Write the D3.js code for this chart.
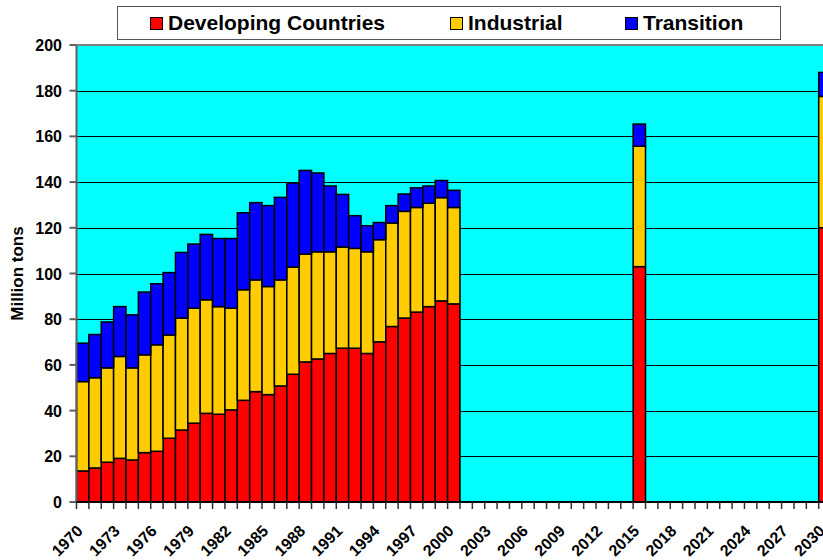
<!DOCTYPE html>
<html>
<head>
<meta charset="utf-8">
<script src="https://cdn.jsdelivr.net/npm/d3@7"></script>
<style>
  body { margin: 0; background: #fff; }
  svg { display: block; font-family: Arial, "Liberation Sans", sans-serif; font-weight: bold; }
</style>
</head>
<body>
<div id="chart"></div>
<script>
// categories on the axis and the years that carry a bar
const axisYears = d3.range(1970, 2031).map(String)
const tickYears = ["1970","1973","1976","1979","1982","1985","1988","1991","1994","1997","2000",
  "2003","2006","2009","2012","2015","2018","2021","2024","2027","2030"]

const barYears = ["1970","1971","1972","1973","1974","1975","1976","1977","1978","1979",
  "1980","1981","1982","1983","1984","1985","1986","1987","1988","1989",
  "1990","1991","1992","1993","1994","1995","1996","1997","1998","1999","2000",
  "2015","2030"]

// million tons
const developing = [13.6,14.9,17.4,19.1,18.4,21.6,22.2,27.9,31.5,34.5,
  38.8,38.4,40.3,44.5,48.3,47.0,50.8,55.9,61.3,62.6,
  65.0,67.3,67.3,65.0,70.1,76.8,80.5,83.1,85.5,88.0,86.7,
  103.0,120.0]
const industrial = [39.1,39.5,41.3,44.6,40.3,42.8,46.6,45.2,49.0,50.3,
  49.7,47.1,44.5,48.4,48.9,47.3,46.4,46.9,47.2,46.9,
  44.5,44.3,43.7,44.5,44.7,45.3,46.7,45.8,45.3,45.2,42.2,
  52.7,57.5]
const transition = [16.8,18.9,20.1,21.8,23.2,27.5,26.7,27.3,28.7,28.1,
  28.6,29.8,30.5,33.7,33.8,35.4,36.1,36.8,36.6,34.5,
  28.8,23.0,14.3,11.4,7.5,7.6,7.6,8.6,7.5,7.5,7.5,
  9.7,10.5]

const seriesKeys = ["developing", "industrial", "transition"]
const seriesNames = ["Developing Countries", "Industrial", "Transition"]
const seriesColors = ["#ff0000", "#ffcc00", "#0000ff"]
const yTicks = [0,20,40,60,80,100,120,140,160,180,200]

const width = 823, height = 560
const plot = {left: 76.5, top: 45, bottom: 502, right: 76.5 + 61 * 12.37}

const rows = barYears.map((year, i) => ({
  year: year,
  developing: developing[i],
  industrial: industrial[i],
  transition: transition[i]
}))

const svg = d3.select("#chart")
  .append("svg")
  .attr("width", width)
  .attr("height", height)

const x = d3.scaleBand()
  .domain(axisYears)
  .range([plot.left, plot.right])
  .padding(0)

const y = d3.scaleLinear()
  .domain([0, 200])
  .range([plot.bottom, plot.top])

// plot background
svg.append("rect")
  .attr("x", plot.left)
  .attr("y", plot.top)
  .attr("width", plot.right - plot.left)
  .attr("height", plot.bottom - plot.top)
  .attr("fill", "#00ffff")

// gridlines
svg.append("g")
  .selectAll("line")
  .data(yTicks.filter(d => d > 0 && d < 200))
  .enter()
  .append("line")
  .attr("x1", plot.left)
  .attr("x2", plot.right)
  .attr("y1", d => Math.round(y(d)) + 0.5)
  .attr("y2", d => Math.round(y(d)) + 0.5)
  .attr("stroke", "#000")
  .attr("stroke-width", 1)

// top border
svg.append("line")
  .attr("x1", plot.left).attr("x2", plot.right)
  .attr("y1", plot.top).attr("y2", plot.top)
  .attr("stroke", "#808080").attr("stroke-width", 2)

// stacked bars
const stacked = d3.stack().keys(seriesKeys)(rows)

svg.append("g")
  .selectAll("g")
  .data(stacked)
  .enter()
  .append("g")
  .attr("fill", (d, i) => seriesColors[i])
  .selectAll("rect")
  .data(d => d)
  .enter()
  .append("rect")
  .attr("x", d => x(d.data.year))
  .attr("y", d => y(d[1]))
  .attr("width", x.bandwidth())
  .attr("height", d => y(d[0]) - y(d[1]))
  .attr("stroke", "#000")
  .attr("stroke-width", 1.5)

// y axis
const yAxis = svg.append("g")
yAxis.append("line")
  .attr("x1", plot.left).attr("x2", plot.left)
  .attr("y1", plot.top).attr("y2", plot.bottom)
  .attr("stroke", "#606060").attr("stroke-width", 2)
yAxis.selectAll(".tick")
  .data(yTicks)
  .enter()
  .append("line")
  .attr("x1", plot.left - 7).attr("x2", plot.left)
  .attr("y1", d => y(d)).attr("y2", d => y(d))
  .attr("stroke", "#606060").attr("stroke-width", 2)
yAxis.selectAll("text")
  .data(yTicks)
  .enter()
  .append("text")
  .attr("x", 62)
  .attr("y", d => y(d) + 6)
  .attr("text-anchor", "end")
  .attr("font-size", 16)
  .text(d => d)

svg.append("text")
  .attr("transform", "translate(22.5," + ((plot.top + plot.bottom) / 2) + ") rotate(-90)")
  .attr("text-anchor", "middle")
  .attr("font-size", 17)
  .text("Million tons")

// x axis
const xAxis = svg.append("g")
xAxis.append("line")
  .attr("x1", plot.left).attr("x2", plot.right)
  .attr("y1", plot.bottom).attr("y2", plot.bottom)
  .attr("stroke", "#000").attr("stroke-width", 2)
xAxis.selectAll(".tick")
  .data(axisYears)
  .enter()
  .append("line")
  .attr("x1", d => x(d)).attr("x2", d => x(d))
  .attr("y1", plot.bottom).attr("y2", plot.bottom + 7)
  .attr("stroke", "#303030").attr("stroke-width", 1.5)
xAxis.selectAll("text")
  .data(tickYears)
  .enter()
  .append("text")
  .attr("transform", d => "translate(" + (x(d) + x.bandwidth() / 2 + 1) + "," + (plot.bottom + 30) + ") rotate(-45)")
  .attr("text-anchor", "end")
  .attr("font-size", 16)
  .text(d => d)

// legend
const legend = svg.append("g")
legend.append("rect")
  .attr("x", 117.5).attr("y", 6.5)
  .attr("width", 663).attr("height", 33)
  .attr("fill", "#fff")
  .attr("stroke", "#555").attr("stroke-width", 1)

const legendX = [150, 450, 625]
const item = legend.selectAll(".item")
  .data(seriesNames)
  .enter()
  .append("g")
  .attr("transform", (d, i) => "translate(" + legendX[i] + ",0)")
item.append("rect")
  .attr("x", 0.5).attr("y", 17.5)
  .attr("width", 12).attr("height", 12)
  .attr("fill", (d, i) => seriesColors[i])
  .attr("stroke", "#000").attr("stroke-width", 1)
item.append("text")
  .attr("x", 18)
  .attr("y", 30)
  .attr("font-size", 21)
  .text(d => d)
</script>
</body>
</html>
